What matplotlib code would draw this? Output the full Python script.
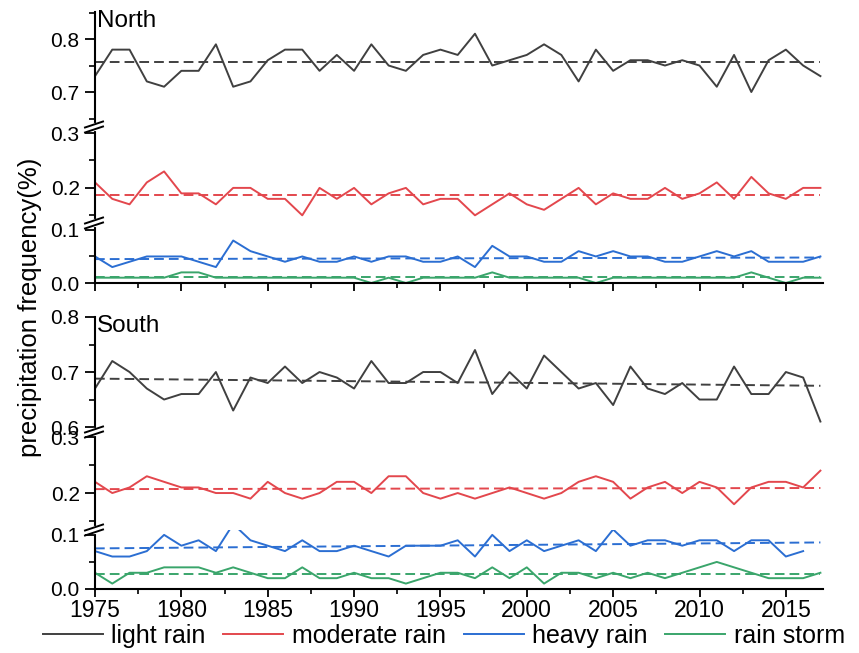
import numpy as np
import matplotlib
matplotlib.use("Agg")
import matplotlib.pyplot as plt
from matplotlib.ticker import MultipleLocator, NullFormatter
from matplotlib.lines import Line2D

plt.rcParams['font.family'] = ['Liberation Sans', 'DejaVu Sans']

years = list(range(1975, 2018))

north_light = [0.73, 0.78, 0.78, 0.72, 0.71, 0.74, 0.74, 0.79, 0.71, 0.72, 0.76, 0.78,
               0.78, 0.74, 0.77, 0.74, 0.79, 0.75, 0.74, 0.77, 0.78, 0.77, 0.81, 0.75, 0.76,
               0.77, 0.79, 0.77, 0.72,
               0.78, 0.74, 0.76, 0.76, 0.75, 0.76, 0.75, 0.71, 0.77, 0.70, 0.76, 0.78, 0.75, 0.73]
north_moderate = [0.21, 0.18, 0.17, 0.21, 0.23, 0.19, 0.19, 0.17, 0.20, 0.20, 0.18, 0.18,
                  0.15, 0.20, 0.18, 0.20, 0.17, 0.19, 0.20, 0.17, 0.18, 0.18, 0.15, 0.17, 0.19,
                  0.17, 0.16, 0.18, 0.20,
                  0.17, 0.19, 0.18, 0.18, 0.20, 0.18, 0.19, 0.21, 0.18, 0.22, 0.19, 0.18, 0.20, 0.20]
north_heavy = [0.05, 0.03, 0.04, 0.05, 0.05, 0.05, 0.04, 0.03, 0.08, 0.06, 0.05, 0.04,
               0.05, 0.04, 0.04, 0.05, 0.04, 0.05, 0.05, 0.04, 0.04, 0.05, 0.03, 0.07, 0.05,
               0.05, 0.04, 0.04, 0.06,
               0.05, 0.06, 0.05, 0.05, 0.04, 0.04, 0.05, 0.06, 0.05, 0.06, 0.04, 0.04, 0.04, 0.05]
north_storm = [0.01, 0.01, 0.01, 0.01, 0.01, 0.02, 0.02, 0.01, 0.01, 0.01, 0.01, 0.01,
               0.01, 0.01, 0.01, 0.01, 0.00, 0.01, 0.00, 0.01, 0.01, 0.01, 0.01, 0.02, 0.01,
               0.01, 0.01, 0.01, 0.01,
               0.00, 0.01, 0.01, 0.01, 0.01, 0.01, 0.01, 0.01, 0.01, 0.02, 0.01, 0.00, 0.01, 0.01]

south_light = [0.67, 0.72, 0.70, 0.67, 0.65, 0.66, 0.66, 0.70, 0.63, 0.69, 0.68, 0.71,
               0.68, 0.70, 0.69, 0.67, 0.72, 0.68, 0.68, 0.70, 0.70, 0.68, 0.74, 0.66, 0.70,
               0.67, 0.73, 0.70, 0.67,
               0.68, 0.64, 0.71, 0.67, 0.66, 0.68, 0.65, 0.65, 0.71, 0.66, 0.66, 0.70, 0.69, 0.61]
south_moderate = [0.22, 0.20, 0.21, 0.23, 0.22, 0.21, 0.21, 0.20, 0.20, 0.19, 0.22, 0.20,
                  0.19, 0.20, 0.22, 0.22, 0.20, 0.23, 0.23, 0.20, 0.19, 0.20, 0.19, 0.20, 0.21,
                  0.20, 0.19, 0.20, 0.22,
                  0.23, 0.22, 0.19, 0.21, 0.22, 0.20, 0.22, 0.21, 0.18, 0.21, 0.22, 0.22, 0.21, 0.24]
south_heavy = [0.07, 0.06, 0.06, 0.07, 0.10, 0.08, 0.09, 0.07, 0.12, 0.09, 0.08, 0.07,
               0.09, 0.07, 0.07, 0.08, 0.07, 0.06, 0.08, 0.08, 0.08, 0.09, 0.06, 0.10, 0.07,
               0.09, 0.07, 0.08, 0.09,
               0.07, 0.11, 0.08, 0.09, 0.09, 0.08, 0.09, 0.09, 0.07, 0.09, 0.09, 0.06, 0.07, np.nan]
south_storm = [0.03, 0.01, 0.03, 0.03, 0.04, 0.04, 0.04, 0.03, 0.04, 0.03, 0.02, 0.02,
               0.04, 0.02, 0.02, 0.03, 0.02, 0.02, 0.01, 0.02, 0.03, 0.03, 0.02, 0.04, 0.02,
               0.04, 0.01, 0.03, 0.03,
               0.02, 0.03, 0.02, 0.03, 0.02, 0.03, 0.04, 0.05, 0.04, 0.03, 0.02, 0.02, 0.02, 0.03]

# trend (dashed) lines: value at 1975 and at 2017
north_trend_start = [0.756, 0.187, 0.045, 0.011]
north_trend_end = [0.756, 0.187, 0.048, 0.011]
south_trend_start = [0.688, 0.207, 0.075, 0.028]
south_trend_end = [0.675, 0.209, 0.086, 0.028]

series_names = ['light rain', 'moderate rain', 'heavy rain', 'rain storm']
colors = ['#404040', '#e3474d', '#2b6ed2', '#3aa56b']

W, H = 859, 653
fig = plt.figure(figsize=(W / 100, H / 100), dpi=100)

X0, X1 = 95, 823
XLIM = (1975, 2017.15)


def add_seg(top_px, bot_px, ylim, bottom=False, labels=False, majors=0.1):
    ax = fig.add_axes([X0 / W, 1 - bot_px / H, (X1 - X0) / W, (bot_px - top_px) / H])
    ax.set_xlim(*XLIM)
    ax.set_ylim(*ylim)
    ax.patch.set_alpha(0)
    for s in ['top', 'right']:
        ax.spines[s].set_visible(False)
    ax.spines['left'].set_linewidth(1.5)
    ax.spines['bottom'].set_linewidth(1.5)
    ax.yaxis.set_major_locator(MultipleLocator(majors))
    ax.yaxis.set_minor_locator(MultipleLocator(0.05))
    ax.yaxis.set_major_formatter(matplotlib.ticker.FormatStrFormatter('%.1f'))
    ax.tick_params(axis='y', which='major', direction='out', length=7, width=1.3,
                   labelsize=15, pad=4)
    ax.tick_params(axis='y', which='minor', direction='out', length=4, width=1.2)
    ax.xaxis.set_major_locator(MultipleLocator(5))
    ax.xaxis.set_minor_locator(MultipleLocator(2.5))
    if bottom:
        ax.tick_params(axis='x', which='major', direction='out', length=6, width=1.3,
                       labelsize=16.5, pad=1.5)
        ax.tick_params(axis='x', which='minor', direction='out', length=3.5, width=1.2)
        if not labels:
            ax.xaxis.set_major_formatter(NullFormatter())
    else:
        ax.spines['bottom'].set_visible(False)
        ax.tick_params(axis='x', which='both', bottom=False, labelbottom=False)
    return ax


def draw_break(y_px):
    yf = 1 - y_px / H
    fig.add_artist(Line2D([X0 / W, X0 / W], [yf - 2 / H, yf + 2 / H],
                          color='white', lw=3, transform=fig.transFigure))
    for dy in (-2.5, 2.5):
        fig.add_artist(Line2D([(X0 - 10) / W, (X0 + 8) / W],
                              [yf + (dy - 3) / H, yf + (dy + 3) / H],
                              color='black', lw=1.4, transform=fig.transFigure))


panels = [
    dict(title='North', data=[north_light, north_moderate, north_heavy, north_storm],
         ts=north_trend_start, te=north_trend_end,
         segs=[(12, 127, (0.634, 0.851)), (127, 223, (0.136, 0.311)), (223, 283, (0.0, 0.113))],
         labels=False, ty=10),
    dict(title='South', data=[south_light, south_moderate, south_heavy, south_storm],
         ts=south_trend_start, te=south_trend_end,
         segs=[(317, 432, (0.591, 0.80)), (432, 530, (0.134, 0.309)), (530, 589, (0.0, 0.109))],
         labels=True, ty=315),
]

handles = []
for p in panels:
    for i, (t, b, yl) in enumerate(p['segs']):
        ax = add_seg(t, b, yl, bottom=(i == 2), labels=p['labels'])
        for k in range(4):
            ln, = ax.plot(years, p['data'][k], color=colors[k], lw=1.4, label=series_names[k])
            ax.plot([years[0], years[-1]], [p['ts'][k], p['te'][k]], color=colors[k],
                    lw=1.4, linestyle=(0, (5, 2.6)))
            if p is panels[1] and i == 2:
                handles.append(ln)
    draw_break(p['segs'][0][1])
    draw_break(p['segs'][1][1])
    fig.text(97 / W, 1 - p['ty'] / H, p['title'], fontsize=17.5, ha='left', va='top')

fig.text(30 / W, 1 - 307 / H, 'precipitation frequency(%)', rotation=90,
         fontsize=18.5, ha='center', va='center')

fig.legend(handles, series_names, loc='center', bbox_to_anchor=(444 / W, 1 - 636 / H),
           ncol=4, frameon=False, fontsize=18, handlelength=2.4, handletextpad=0.35,
           columnspacing=0.7, borderpad=0, borderaxespad=0)

fig.savefig('out.png', dpi=100)
